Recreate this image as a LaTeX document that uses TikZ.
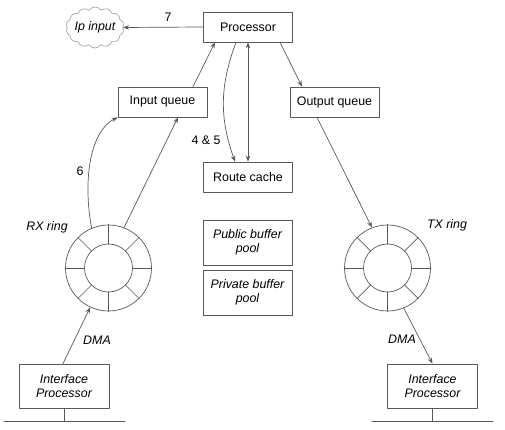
\documentclass[tikz,border=0pt]{standalone}
\usepackage{fontspec}
\setmainfont{Liberation Sans}
\usetikzlibrary{shapes.symbols,arrows.meta}
\begin{document}
\begin{tikzpicture}[x=1pt,y=-1pt,>={Stealth[length=6pt,width=4.5pt]},line join=round,line cap=round,font=\fontsize{12.4}{14.5}\selectfont,
	hop/.style={draw=black!65,line width=.7pt},
	box/.style={hop,minimum width=89pt,minimum height=30pt,inner sep=1pt},
	ibox/.style={box,font=\fontsize{12.4}{14.5}\selectfont\itshape,minimum height=45pt,align=center},
	ring/.style={hop,circle,minimum size=86pt,inner sep=0pt},
	nhan/.style={font=\fontsize{12.4}{14.5}\selectfont\itshape}]
	\useasboundingbox (0,0) rectangle (505,430);
	%Cac hop
	\node[box] (proc) at (248,27) {Processor};
	\node[box] (inq) at (162.5,102) {Input queue};
	\node[box] (outq) at (334.5,102) {Output queue};
	\node[box] (rc) at (248,177) {Route cache};
	\node[ibox] (pub) at (247.5,242.5) {Public buffer\\pool};
	\node[ibox] (priv) at (247.5,292.5) {Private buffer\\pool};
	\node[ibox,minimum width=90pt,minimum height=44pt] (lip) at (64,386) {Interface\\Processor};
	\node[ibox,minimum width=90pt,minimum height=44pt] (rip) at (432.5,386) {Interface\\Processor};
	\node[cloud,cloud puffs=14,cloud puff arc=110,cloud ignores aspect,draw=black!35,line width=.7pt,minimum width=58pt,minimum height=41pt,inner xsep=-8pt,inner ysep=4pt,nhan] (ipin) at (95,27.5) {Ip input};
	%Vong RX va TX
	\node[ring] (rxring) at (108.5,268) {};
	\node[ring] (txring) at (387.5,268) {};
	\foreach \r in {rxring,txring}{
		\draw[hop] (\r.center) circle (24pt);
		\foreach \a in {0,45,...,315}
			\draw[hop] (\r.center)++(\a:24pt) -- (\r.\a);
	}
	%Nhan
	\node (n7) at (168,17) {7};
	\node (n45) at (206,140) {4 \& 5};
	\node (n6) at (80,171) {6};
	\node[nhan] (rxl) at (47,227) {RX ring};
	\node[nhan] (txl) at (447,225) {TX ring};
	\node[nhan] (dmal) at (97,340) {DMA};
	\node[nhan] (dmar) at (402,339) {DMA};
	%Mui ten
	\draw[hop,->] (proc.west) -- (ipin.east);
	\draw[hop,->] ([xshift=30.5pt]inq.north) -- ([xshift=-33pt]proc.south);
	\draw[hop,->] ([xshift=-12pt]proc.south) to[bend right=20] ([xshift=-13pt]rc.north);
	\draw[hop,<->] (proc.south) -- (rc.north);
	\draw[hop,->] ([xshift=32pt]proc.south) -- ([xshift=-32.5pt]outq.north);
	\draw[hop,->] ([xshift=-17.5pt]outq.south) -- (txring.111);
	\draw[hop,->] (rxring.69) -- ([xshift=15.5pt]inq.south);
	\draw[hop,->] (rxring.113) .. controls (82,175) and (92,130) .. (inq.south west);
	\draw[hop,->] ([xshift=-1pt]lip.north) -- (rxring.245);
	\draw[hop,->] (txring.292) -- (rip.north);
	%Duong day
	\path (4,421) coordinate (L1) (125,421) coordinate (L2)
		(372,421) coordinate (R1) (493,421) coordinate (R2);
	\draw[hop] (L1)--(L2) (lip.south)--(lip.south |- L1);
	\draw[hop] (R1)--(R2) (rip.south)--(rip.south |- R1);
\end{tikzpicture}
\end{document}
